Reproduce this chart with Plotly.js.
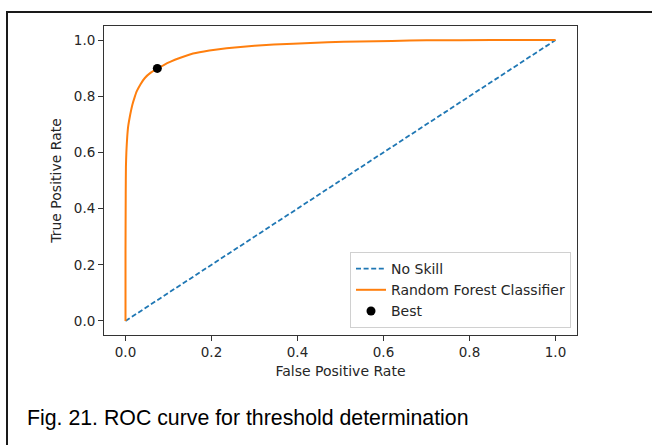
<!DOCTYPE html>
<html>
<head>
<meta charset="utf-8">
<script src="https://cdn.plot.ly/plotly-3.0.1.min.js"></script>
<style>
  html, body { margin: 0; padding: 0; background: #ffffff; }
  #wrap { position: relative; width: 652px; height: 445px; overflow: hidden; }
  #chart { position: absolute; left: 0; top: 0; width: 652px; height: 445px; }
  #frame { position: absolute; left: 6px; top: 11px; width: 660px; height: 460px;
           border-top: 2px solid #1a1a1a; border-left: 2px solid #1a1a1a; pointer-events: none; }
</style>
</head>
<body>
<div id="wrap">
  <div id="chart"></div>
  <div id="frame"></div>
</div>
<script>
// No-skill reference line
const noSkillFPR = [0, 1];
const noSkillTPR = [0, 1];

// Random Forest ROC curve
const rfFPR = [0, 0, 0.0005, 0.001, 0.002, 0.003, 0.004, 0.006, 0.008, 0.011, 0.016, 0.021, 0.026, 0.035, 0.045, 0.058, 0.074, 0.09, 0.105, 0.126, 0.157, 0.195, 0.235, 0.3, 0.39, 0.47, 0.545, 0.62, 0.70, 0.85, 1.0];
const rfTPR = [0, 0.25, 0.45, 0.55, 0.6, 0.63, 0.655, 0.69, 0.71, 0.735, 0.77, 0.795, 0.817, 0.843, 0.865, 0.883, 0.898, 0.912, 0.923, 0.936, 0.952, 0.963, 0.971, 0.98, 0.987, 0.992, 0.995, 0.997, 0.999, 1.0, 1.0];

// Best threshold point
const bestFPR = [0.074];
const bestTPR = [0.899];

const tickVals = [0, 0.2, 0.4, 0.6, 0.8, 1.0];
const tickText = ["0.0", "0.2", "0.4", "0.6", "0.8", "1.0"];

const captionText = "Fig. 21. ROC curve for threshold determination";

const mono = "DejaVu Sans, sans-serif";
const textColor = "#262626";

const traces = [
  {
    x: noSkillFPR, y: noSkillTPR, type: "scatter", mode: "lines", name: "No Skill",
    line: { color: "#1f77b4", width: 1.8, dash: "5px,2.6px" }
  },
  {
    x: rfFPR, y: rfTPR, type: "scatter", mode: "lines", name: "Random Forest Classifier",
    line: { color: "#ff7f0e", width: 2, shape: "spline", smoothing: 0.5 }
  },
  {
    x: bestFPR, y: bestTPR, type: "scatter", mode: "markers", name: "Best",
    marker: { color: "#000000", size: 9 }
  }
];

const L = 104, R = 75, T = 26, B = 110;
const plotW = 652 - L - R, plotH = 445 - T - B;

const axisCommon = {
  range: [-0.05, 1.05],
  tickvals: tickVals,
  ticktext: tickText,
  ticks: "outside",
  ticklen: 5,
  tickwidth: 1,
  tickcolor: "#333",
  showline: true,
  linecolor: "#333",
  linewidth: 1,
  mirror: true,
  showgrid: false,
  zeroline: false,
  tickfont: { family: mono, size: 13.5, color: textColor }
};

const layout = {
  width: 652,
  height: 445,
  margin: { l: L, r: R, t: T, b: B },
  paper_bgcolor: "#ffffff",
  plot_bgcolor: "#ffffff",
  showlegend: true,
  xaxis: Object.assign({}, axisCommon, {
    title: { text: "False Positive Rate", font: { family: mono, size: 14, color: textColor }, standoff: 6 }
  }),
  yaxis: Object.assign({}, axisCommon, {
    title: { text: "True Positive Rate", font: { family: mono, size: 14, color: textColor }, standoff: 8 }
  }),
  legend: {
    x: (571 - L) / plotW, y: (335 - 328) / plotH, xanchor: "right", yanchor: "bottom",
    bgcolor: "#ffffff", bordercolor: "#d0d0d0", borderwidth: 1,
    font: { family: mono, size: 14, color: textColor },
    itemwidth: 30, tracegroupgap: 0
  },
  annotations: [
    {
      text: captionText, xref: "paper", yref: "paper",
      x: (25 - L) / plotW, y: (335 - 418) / plotH, xanchor: "left", yanchor: "middle",
      showarrow: false,
      font: { family: "Liberation Sans, Arial, sans-serif", size: 21.3, color: "#000000" }
    }
  ]
};

Plotly.newPlot("chart", traces, layout, { displayModeBar: false, staticPlot: true });
</script>
</body>
</html>
